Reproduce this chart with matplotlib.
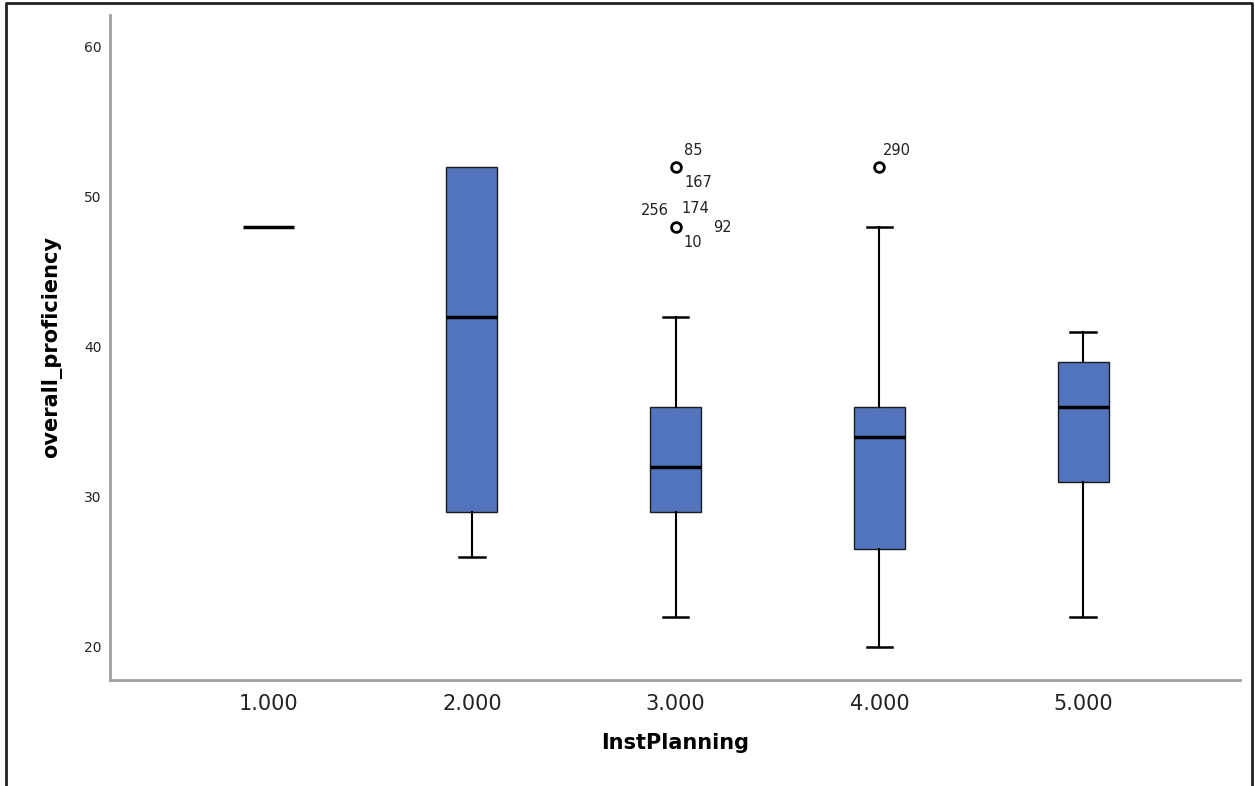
import numpy as np
import matplotlib.pyplot as plt
from matplotlib.lines import Line2D

# InstPlanning groups and box statistics
groups = ['1.000', '2.000', '3.000', '4.000', '5.000']
q1 = [48, 29, 29, 26.5, 31]
med = [48, 42, 32, 34, 36]
q3 = [48, 52, 36, 36, 39]
whislo = [48, 26, 22, 20, 22]
whishi = [48, 52, 42, 48, 41]
fliers = [[], [], [52, 48], [52], []]

# outlier case numbers: (group index, value, label, dx px, dy px)
outlier_labels = [
    (2, 52, '85', 18, 16),
    (2, 52, '167', 23, -16),
    (2, 48, '256', -21, 16),
    (2, 48, '174', 20, 18),
    (2, 48, '92', 47, -1),
    (2, 48, '10', 17, -16),
    (3, 52, '290', 18, 16),
]

BOX_COLOR = '#5274bd'
AXIS_GREY = '#a0a0a0'

fig = plt.figure(figsize=(12.55, 7.86), dpi=100)
ax = fig.add_axes([110 / 1255, 1 - 680 / 786, (1240 - 110) / 1255, (680 - 15) / 786])

positions = np.arange(1, len(groups) + 1)
stats = []
for i in range(len(groups)):
    stats.append(dict(q1=q1[i], med=med[i], q3=q3[i], whislo=whislo[i],
                      whishi=whishi[i], fliers=fliers[i], label=groups[i]))

bp = ax.bxp(stats, positions=positions, widths=0.25, capwidths=0.125,
            patch_artist=True,
            boxprops=dict(facecolor=BOX_COLOR, edgecolor='#1a1a1a', linewidth=1),
            medianprops=dict(color='black', linewidth=2.5),
            whiskerprops=dict(color='black', linewidth=1.5),
            capprops=dict(color='black', linewidth=1.8),
            flierprops=dict(marker='o', markerfacecolor='white', markeredgecolor='black',
                            markersize=7, markeredgewidth=2))

# SPSS draws no whisker/cap where the whisker ends at the box edge
for i in range(len(groups)):
    if whishi[i] == q3[i]:
        bp['caps'][2 * i + 1].set_visible(False)
    if whislo[i] == q1[i]:
        bp['caps'][2 * i].set_visible(False)
# single-value group: keep only the median line
if q1[0] == q3[0]:
    bp['boxes'][0].set_visible(False)

for gi, val, lab, dx, dy in outlier_labels:
    ax.annotate(lab, xy=(positions[gi], val), xytext=(dx, dy),
                textcoords='offset pixels', ha='center', va='center',
                fontsize=10.5, color='#222222')

ax.set_xlim(0.224, 5.77)
ax.set_ylim(17.8, 62.1)
ax.set_yticks([20, 30, 40, 50, 60])
ax.set_xticks(positions)
ax.set_xticklabels(groups)
ax.tick_params(axis='both', length=0, colors='#222222')
ax.tick_params(axis='x', labelsize=15, pad=10)
ax.tick_params(axis='y', labelsize=10, pad=6)

for s in ['top', 'right']:
    ax.spines[s].set_visible(False)
for s in ['left', 'bottom']:
    ax.spines[s].set_color(AXIS_GREY)
    ax.spines[s].set_linewidth(2)

ax.set_xlabel('InstPlanning', fontsize=15, fontweight='bold', labelpad=14)
ax.set_ylabel('overall_proficiency', fontsize=15, fontweight='bold', labelpad=16)

# outer frame of the screenshot (left, top, right)
fig.add_artist(Line2D([6 / 1255, 6 / 1255, 1252 / 1255, 1252 / 1255],
                      [0, 1 - 3 / 786, 1 - 3 / 786, 0],
                      color='#222222', linewidth=2, transform=fig.transFigure))

fig.savefig('out.png', dpi=100)
